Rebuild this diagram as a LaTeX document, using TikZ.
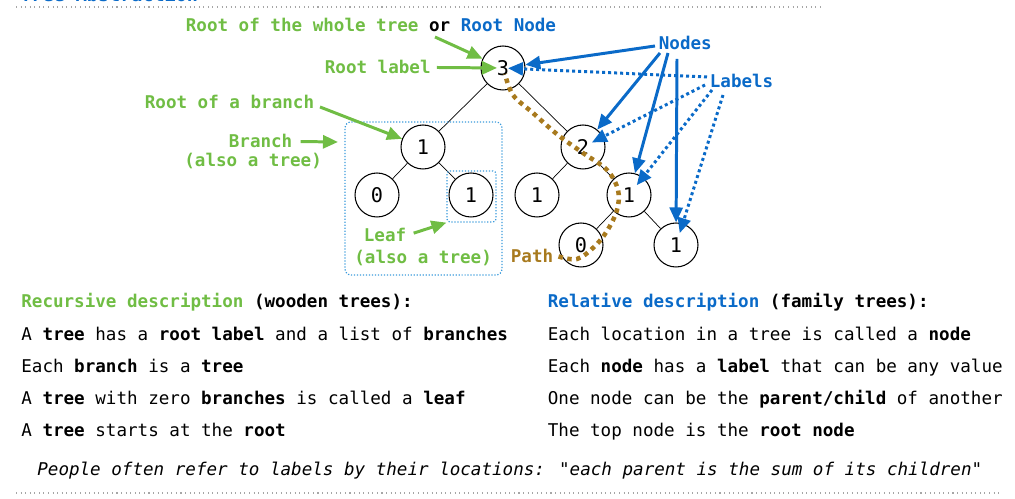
\documentclass[tikz,border=0pt]{standalone}
\usepackage{fontspec}
\setmainfont{DejaVu Sans Mono}[Ligatures=TeXOff]
\usetikzlibrary{arrows.meta}
\definecolor{leafgreen}{RGB}{112,189,68}
\definecolor{nodeblue}{RGB}{10,106,200}
\definecolor{pathbrown}{RGB}{168,122,30}
\definecolor{boxblue}{RGB}{60,155,220}
\begin{document}
\begin{tikzpicture}[x=0.02cm, y=-0.02cm, font=\fontsize{10}{12}\selectfont,
  treenode/.style={draw, circle, line width=0.6pt, minimum size=0.88cm, inner sep=0pt, font=\fontsize{11.5}{13}\selectfont},
  txt/.style={inner sep=0pt, anchor=base west},
  grnnote/.style={txt, font=\fontsize{10}{12}\selectfont\bfseries, text=leafgreen},
  blunote/.style={txt, font=\fontsize{10}{12}\selectfont\bfseries, text=nodeblue},
  grnarrow/.style={draw=leafgreen, line width=1.7pt, -{Triangle[length=0.3cm,width=0.26cm]}},
  bluarrow/.style={draw=nodeblue, line width=1.7pt, -{Triangle[length=0.3cm,width=0.26cm]}},
  dotarrow/.style={bluarrow, dash pattern=on 0.06cm off 0.06cm},
  pathline/.style={draw=pathbrown, line width=0.09cm, dash pattern=on 0.09cm off 0.09cm},
  dotbox/.style={draw=boxblue, densely dotted, line width=0.7pt, rounded corners=0.12cm, inner sep=0pt},
  sepline/.style={draw=black!35, dotted, line width=0.6pt}]
\useasboundingbox (0,0) rectangle (1015,499);
% separators and title
\node[txt, font=\fontsize{10.5}{12}\selectfont\bfseries, text=nodeblue] (title) at (20,2) {Tree Abstraction};
\draw[sepline] (16,7) -- (820,7);
\draw[sepline] (16,493) -- (1002,493);
% tree
\node[treenode] (t3) at (503,68) {3};
\node[treenode] (b1) at (423,147) {1};
\node[treenode] (b10) at (377,195) {0};
\node[treenode] (b11) at (471,195) {1};
\node[treenode] (t2) at (583,147) {2};
\node[treenode] (t21) at (537,195) {1};
\node[treenode] (t22) at (629,195) {1};
\node[treenode] (t220) at (581,245) {0};
\node[treenode] (t221) at (676,245) {1};
\draw (t3) -- (b1);
\draw (t3) -- (t2);
\draw (b1) -- (b10);
\draw (b1) -- (b11);
\draw (t2) -- (t21);
\draw (t2) -- (t22);
\draw (t22) -- (t220);
\draw (t22) -- (t221);
\node[dotbox, minimum width=3.14cm, minimum height=3.06cm] (branchbox) at (423.5,198.5) {};
\node[dotbox, rounded corners=0.06cm, minimum width=0.98cm, minimum height=1.02cm] (leafbox) at (471.5,196.5) {};
% green notes
\node[txt, font=\fontsize{10}{12}\selectfont\bfseries] (wholelbl) at (185.5,31.5) {{\color{leafgreen}Root of the whole tree} or {\color{nodeblue}Root Node}};
\node[grnnote] (rootlbl) at (324.5,74) {Root label};
\node[grnnote] (brootlbl) at (144.5,109) {Root of a branch};
\node[grnnote] (branchlbl) at (228.5,148) {Branch};
\node[grnnote] (branchsub) at (184,167) {(also a tree)};
\node[grnnote] (leaflbl) at (363.5,242) {Leaf};
\node[grnnote] (leafsub) at (354,264) {(also a tree)};
\coordinate (g1) at (435,37);
\coordinate (g3) at (320,107);
\coordinate (brtip) at (338,142);
\draw[grnarrow] (g1) -- (t3);
\draw[grnarrow, shorten <=0.12cm, shorten >=0.12cm] (rootlbl.east) -- (t3.center);
\draw[grnarrow] (g3) -- (b1);
\draw[grnarrow, shorten <=0.16cm] (branchlbl.east) -- (brtip);
\draw[grnarrow, shorten <=0.15cm] (leaflbl.east) -- (leafbox.south west);
% path
\node[txt, font=\fontsize{10}{12}\selectfont\bfseries, text=pathbrown] (pathlbl) at (510.5,263) {Path};
\draw[pathline] plot[smooth, tension=0.6] coordinates {([xshift=0.1cm]pathlbl.east) (577,259) (594,247) (607,231) (617,210) (618,190) (607,170) (583,153) (558,135) (533,113) (513,95) (505,74)};
% blue notes
\node[blunote] (nodeslbl) at (658.5,50) {Nodes};
\node[blunote] (labelslbl) at (709.5,88) {Labels};
\coordinate (n1) at (655,46);
\coordinate (n2) at (660,53);
\coordinate (n3) at (668,53);
\coordinate (n4) at (677,59);
\coordinate (l1) at (707,77);
\coordinate (l2) at (705,85);
\coordinate (l3) at (712,90);
\coordinate (l4) at (723,95);
\draw[bluarrow] (n1) -- (t3);
\draw[bluarrow] (n2) -- (t2);
\draw[bluarrow] (n3) -- (t22);
\draw[bluarrow] (n4) -- (t221);
\draw[dotarrow, shorten >=0.1cm] (l1) -- (t3.center);
\draw[dotarrow, shorten >=0.2cm] (l2) -- (t2.center);
\draw[dotarrow, shorten >=0.25cm] (l3) -- (t22.center);
\draw[dotarrow, shorten >=0.25cm] (l4) -- (t221.center);
% descriptions
\node[txt, font=\fontsize{10}{12}\selectfont\bfseries] (rechead) at (21,308) {{\color{leafgreen}Recursive description} (wooden trees):};
\node[txt] (rec1) at (21,341) {A \textbf{tree} has a \textbf{root label} and a list of \textbf{branches}};
\node[txt] (rec2) at (21,373) {Each \textbf{branch} is a \textbf{tree}};
\node[txt] (rec3) at (21,405) {A \textbf{tree} with zero \textbf{branches} is called a \textbf{leaf}};
\node[txt] (rec4) at (21,437) {A \textbf{tree} starts at the \textbf{root}};
\node[txt, font=\fontsize{10}{12}\selectfont\bfseries] (relhead) at (547.5,308) {{\color{nodeblue}Relative description} (family trees):};
\node[txt] (rel1) at (547.5,341) {Each location in a tree is called a \textbf{node}};
\node[txt] (rel2) at (547.5,373) {Each \textbf{node} has a \textbf{label} that can be any value};
\node[txt] (rel3) at (547.5,405) {One node can be the \textbf{parent/child} of another};
\node[txt] (rel4) at (547.5,437) {The top node is the \textbf{root node}};
\node[txt, font=\fontsize{10}{12}\selectfont\itshape] (people) at (37,476) {People often refer to labels by their locations: "each parent is the sum of its children"};
\end{tikzpicture}
\end{document}
